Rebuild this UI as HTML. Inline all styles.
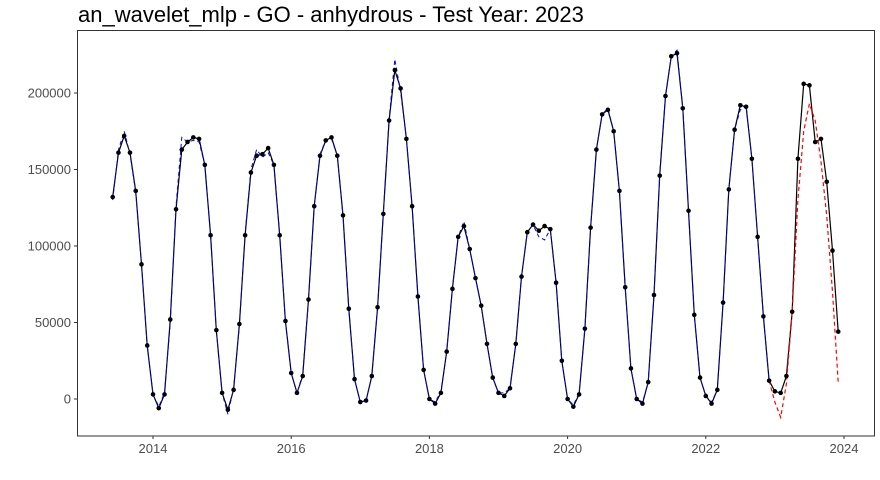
<!DOCTYPE html>
<html><head><meta charset="utf-8"><style>
body{margin:0;background:#fff;}
svg{display:block;font-family:"Liberation Sans",sans-serif;}
</style></head><body>
<svg id="chart" width="880" height="480">
<text x="78" y="22" font-size="22" fill="#000">an_wavelet_mlp - GO - anhydrous - Test Year: 2023</text>
<rect x="77.5" y="30.5" width="797" height="405.5" fill="none" stroke="#333" stroke-width="1"/>
<g id="axes"></g>
<g id="series"></g>
</svg>
<script>
const startYear = 2013, startMonth = 6;
const actual = [132000,161000,172000,161000,136000,88000,35000,
3000,-6000,3000,52000,124000,163000,168000,171000,170000,153000,107000,45000,
4000,-7000,6000,49000,107000,148000,159000,160000,164000,153000,107000,51000,
17000,4000,15000,65000,126000,159000,169000,171000,159000,120000,59000,13000,
-2000,-1000,15000,60000,121000,182000,215000,203000,170000,126000,67000,19000,
0,-3000,4000,31000,72000,106000,113000,98000,79000,61000,36000,14000,
4000,2000,7000,36000,80000,109000,114000,110000,113000,111000,76000,25000,
0,-5000,3000,46000,112000,163000,186000,189000,175000,136000,73000,20000,
0,-3000,11000,68000,146000,198000,224000,226000,190000,123000,55000,14000,
2000,-3000,6000,63000,137000,176000,192000,191000,157000,106000,54000,12000,
5000,4000,15000,57000,157000,206000,205000,168000,170000,142000,97000,44000];
const fitted = [130000,163000,175000,160000,135000,88000,35000,
3000,-5000,4000,50000,126000,171000,168000,169000,168000,153000,107000,45000,
4000,-10000,7000,48000,108000,150000,163000,158000,161000,153000,107000,51000,
17000,4000,16000,65000,126000,160000,169000,170000,159000,120000,59000,13000,
-2000,-1000,15000,60000,121000,183000,222000,201000,170000,126000,67000,19000,
0,-2000,5000,31000,72000,106000,116000,98000,79000,61000,36000,14000,
4000,4000,7000,36000,80000,109000,114000,106000,104000,111000,76000,25000,
0,-4000,4000,46000,112000,163000,186000,190000,175000,136000,73000,20000,
0,-2000,11000,68000,147000,198000,224000,228000,190000,123000,55000,14000,
2000,-2000,6000,63000,137000,176000,189000,192000,157000,106000,54000,12000];
const forecast = [12000,-2000,-12000,10000,57000,130000,175000,193000,182000,155000,120000,70000,11000];
const forecastStart = 114; // index into actual (Dec 2022)
const yTicks = [0,50000,100000,150000,200000];
const xTicks = [2014,2016,2018,2020,2022,2024];

const NS="http://www.w3.org/2000/svg";
const xS = t => 153 + (t-2014)*69.1;
const yS = v => 399 - v/200000*306;
const tOf = i => startYear + (startMonth-1+i)/12;
function mk(tag, attrs, parent){const e=document.createElementNS(NS,tag);for(const k in attrs)e.setAttribute(k,attrs[k]);parent.appendChild(e);return e;}
const axes=document.getElementById('axes'), ser=document.getElementById('series');
yTicks.forEach(v=>{
  const l=mk('line',{x1:74,x2:77,y1:yS(v),y2:yS(v),stroke:'#333'},axes);
  
  
  const t=mk('text',{x:71,y:yS(v)+4.5,'text-anchor':'end','font-size':13,fill:'#4d4d4d'},axes);
  t.textContent=v;
  
  
});
xTicks.forEach(y=>{
  const l=mk('line',{x1:xS(y),x2:xS(y),y1:436,y2:439,stroke:'#333'},axes);
  
  
  const t=mk('text',{x:xS(y),y:453,'text-anchor':'middle','font-size':13,fill:'#4d4d4d'},axes);
  t.textContent=y;
  
  
});
const pts=(arr,off)=>arr.map((v,i)=>xS(tOf(i+off)).toFixed(1)+','+yS(v).toFixed(1)).join(' ');
const la=mk('polyline',{points:pts(actual,0),fill:'none',stroke:'#000','stroke-width':1.2},ser);


const lf=mk('polyline',{points:pts(fitted,0),fill:'none',stroke:'#0000ff','stroke-width':1,'stroke-dasharray':'4,3'},ser);


const lr=mk('polyline',{points:pts(forecast,forecastStart),fill:'none',stroke:'#ff0000','stroke-width':1.2,'stroke-dasharray':'4,3'},ser);


actual.forEach((v,i)=>{
  const c=mk('circle',{cx:xS(tOf(i)),cy:yS(v),r:2.3,fill:'#000'},ser);
  
  
});
</script>
</body></html>
